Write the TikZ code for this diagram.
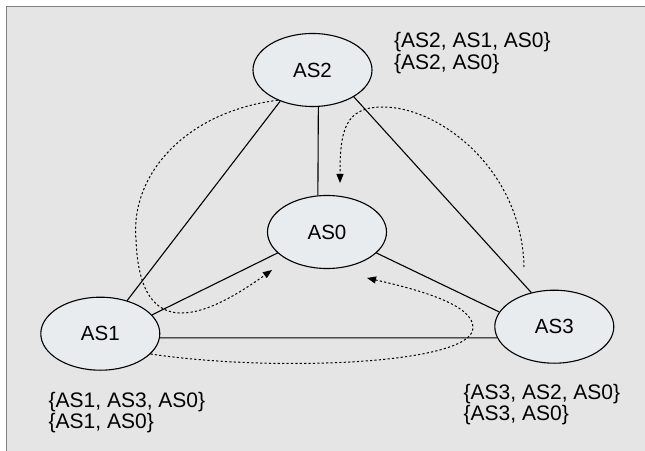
\documentclass[tikz,border=0pt]{standalone}
\usepackage{fontspec}
\setmainfont{Liberation Sans}
\usetikzlibrary{shapes.geometric,arrows.meta}
\definecolor{bg}{HTML}{E5E5E5}
\definecolor{nodefill}{HTML}{E8ECEE}
\definecolor{frame}{HTML}{808080}
\begin{document}
\begin{tikzpicture}[x=1bp,y=-1bp,
  asnode/.style={ellipse, draw=black, line width=1.1bp, fill=nodefill,
    minimum width=119bp, minimum height=73bp, inner sep=0pt,
    font=\fontsize{20.5bp}{21.5bp}\selectfont},
  link/.style={line width=1.1bp},
  route/.style={line width=1bp, dash pattern=on 2.2bp off 2.2bp,
    -{Triangle[length=9bp,width=7bp]}},
  setlabel/.style={align=left, anchor=north west, inner sep=0pt,
    font=\fontsize{21bp}{21.5bp}\selectfont}]
\useasboundingbox (0,0) rectangle (645,451);
\fill[white] (0,0) rectangle (645,451);
\fill[bg] (6.5,6.5) rectangle (645,451);
\draw[frame, line width=1.5bp] (6.5,451) -- (6.5,6.5) -- (645,6.5);

\node[asnode] (AS2) at (312.5,70) {AS2};
\node[asnode] (AS0) at (327,232) {AS0};
\node[asnode] (AS1) at (100.3,333.7) {AS1};
\node[asnode] (AS3) at (554.3,326.7) {AS3};

\draw[link] (AS2.279) -- (AS0.104);
\draw[link] (AS2.224) -- (AS1.51);
\draw[link] (AS2.327) -- (AS3.124);
\draw[link] (AS0.203) -- (AS1.20);
\draw[link] (AS0.337) -- (AS3.165);
\draw[link] (AS1.356) -- (AS3.191);

\coordinate (t1) at (272,270);
\coordinate (s2) at (524,267);
\coordinate (t2) at (340,183);
\coordinate (t3) at (367,278);
\draw[route] (AS2.221) .. controls (185,112) and (130,175) .. (136,240)
  .. controls (140,345) and (205,318) .. (t1);
\draw[route] (s2) .. controls (522,170) and (440,107) .. (383,107)
  .. controls (345,107) and (340,130) .. (t2);
\draw[route] (AS1.338) .. controls (270,372) and (472,365) .. (473,328)
  .. controls (474,305) and (420,290) .. (t3);

\node[setlabel] (L2) at (394,32.5) {\{AS2, AS1, AS0\}\\\{AS2, AS0\}};
\node[setlabel] (L1) at (48.5,392) {\{AS1, AS3, AS0\}\\\{AS1, AS0\}};
\node[setlabel] (L3) at (463.5,384) {\{AS3, AS2, AS0\}\\\{AS3, AS0\}};
\end{tikzpicture}
\end{document}
